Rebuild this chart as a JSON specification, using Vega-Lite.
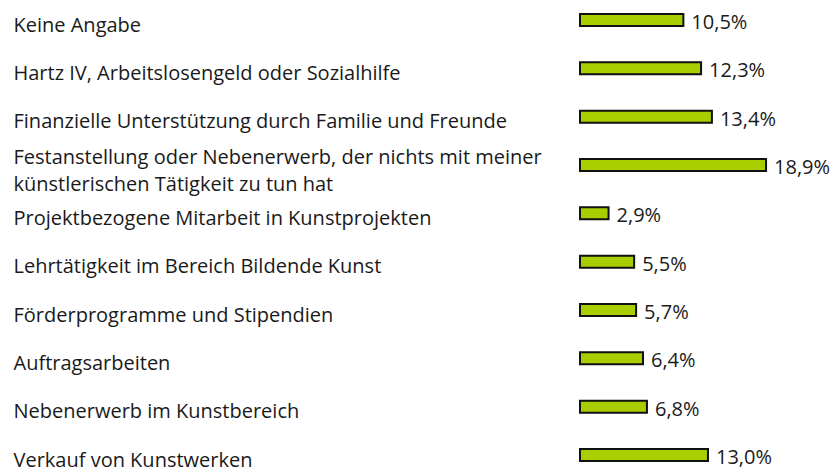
{
  "$schema": "https://vega.github.io/schema/vega-lite/v6.json",
  "autosize": {"type": "none"},
  "padding": {"left": 580, "top": 20, "right": 0, "bottom": 13},
  "width": 253,
  "height": 435,
  "background": "white",
  "config": {
    "view": {"stroke": null},
    "font": "Open Sans",
    "locale": {"number": {"decimal": ",", "thousands": ".", "grouping": [3], "currency": ["", " €"]}}
  },
  "data": {
    "values": [
      {"kategorie": "Keine Angabe", "anteil": 0.105},
      {"kategorie": "Hartz IV, Arbeitslosengeld oder Sozialhilfe", "anteil": 0.123},
      {"kategorie": "Finanzielle Unterstützung durch Familie und Freunde", "anteil": 0.134},
      {"kategorie": "Festanstellung oder Nebenerwerb, der nichts mit meiner|künstlerischen Tätigkeit zu tun hat", "anteil": 0.189},
      {"kategorie": "Projektbezogene Mitarbeit in Kunstprojekten", "anteil": 0.029},
      {"kategorie": "Lehrtätigkeit im Bereich Bildende Kunst", "anteil": 0.055},
      {"kategorie": "Förderprogramme und Stipendien", "anteil": 0.057},
      {"kategorie": "Auftragsarbeiten", "anteil": 0.064},
      {"kategorie": "Nebenerwerb im Kunstbereich", "anteil": 0.068},
      {"kategorie": "Verkauf von Kunstwerken", "anteil": 0.130}
    ]
  },
  "encoding": {
    "y": {
      "field": "kategorie",
      "type": "nominal",
      "sort": null,
      "scale": {"type": "point", "padding": 0},
      "axis": {
        "title": null,
        "domain": false,
        "ticks": false,
        "tickSize": 0,
        "labelAlign": "left",
        "labelPadding": 567,
        "labelOffset": {"condition": {"test": "indexof(datum.value, '|') >= 0", "value": -8}, "value": 5},
        "labelFont": "Open Sans",
        "labelFontSize": 20,
        "labelColor": "#1a1a1a",
        "labelLimit": 0,
        "labelLineHeight": 27,
        "labelExpr": "split(datum.label, '|')"
      }
    },
    "x": {
      "field": "anteil",
      "type": "quantitative",
      "scale": {"domain": [0, 0.257]},
      "axis": null
    }
  },
  "layer": [
    {
      "mark": {"type": "bar", "height": 12, "fill": "#A8CE00", "stroke": "#111111", "strokeWidth": 2}
    },
    {
      "mark": {"type": "text", "align": "left", "baseline": "middle", "dx": 8, "dy": 3, "fontSize": 20, "font": "Open Sans", "color": "#1a1a1a"},
      "encoding": {
        "text": {"field": "anteil", "type": "quantitative", "format": ".1%"}
      }
    }
  ]
}
